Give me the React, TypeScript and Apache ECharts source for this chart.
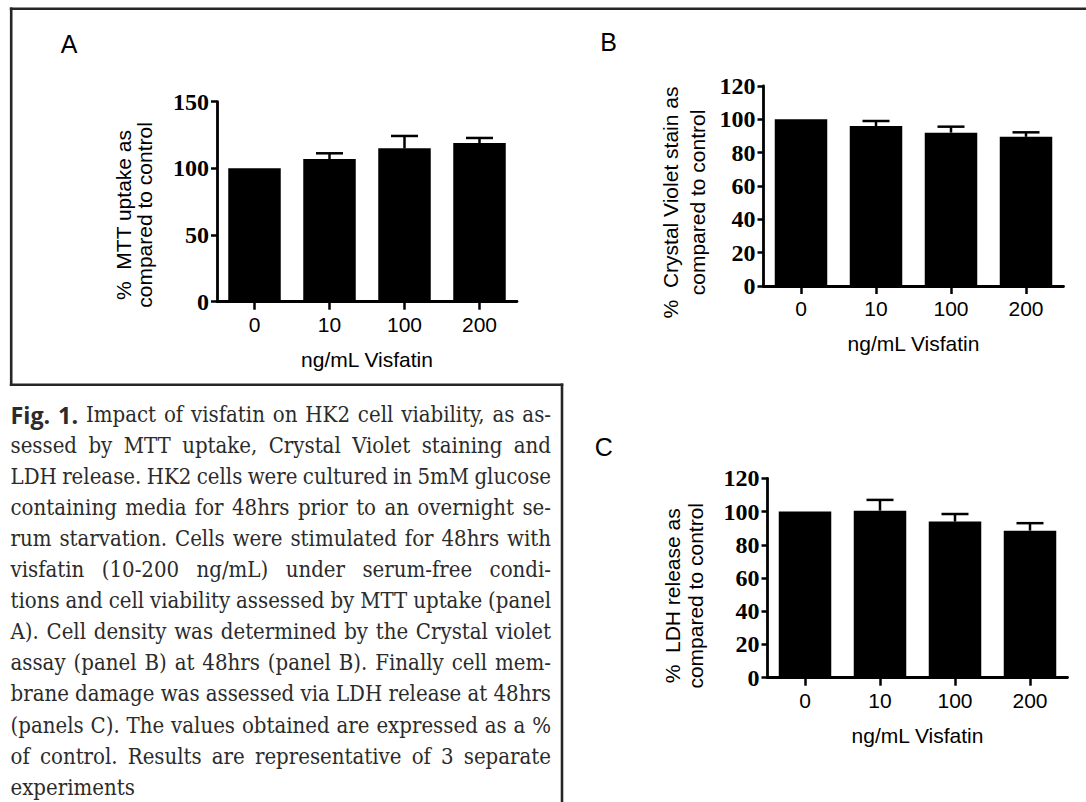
import React, { useEffect, useRef } from 'react';
import * as echarts from 'echarts';

// ---------- data ----------
const doses = ['0', '10', '100', '200'];
const mttMean = [100, 107, 115, 119];
const mttErr = [0, 4.3, 9.3, 3.8];
const cvMean = [100, 96, 92, 89.5];
const cvErr = [0, 3, 3.6, 2.7];
const ldhMean = [100, 100.5, 94, 88.5];
const ldhErr = [0, 6.5, 4.5, 4.5];

const yMaxA = 150;
const yStepA = 50;
const yMaxBC = 120;
const yStepBC = 20;

const xAxisName = 'ng/mL Visfatin';
const yNameA = ['%  MTT uptake as', 'compared to control'];
const yNameB = ['%  Crystal Violet stain as', 'compared to control'];
const yNameC = ['%  LDH release as', 'compared to control'];
const panelLetters = ['A', 'B', 'C'];

const captionLines = [
  'Fig. 1. Impact of visfatin on HK2 cell viability, as as-',
  'sessed by MTT uptake, Crystal Violet staining and',
  'LDH release. HK2 cells were cultured in 5mM glucose',
  'containing media for 48hrs prior to an overnight se-',
  'rum starvation. Cells were stimulated for 48hrs with',
  'visfatin (10-200 ng/mL) under serum-free condi-',
  'tions and cell viability assessed by MTT uptake (panel',
  'A). Cell density was determined by the Crystal violet',
  'assay (panel B) at 48hrs (panel B). Finally cell mem-',
  'brane damage was assessed via LDH release at 48hrs',
  '(panels C). The values obtained are expressed as a %',
  'of control. Results are representative of 3 separate',
  'experiments',
];
const boldWordCount = 2; // "Fig." "1."

// ---------- layout ----------
const SANS = '"Liberation Sans", Arial, sans-serif';
const TIMES = '"Liberation Serif", "Times New Roman", serif';
const CAP_BOLD = '"Open Sans", sans-serif';

const panels = [
  {
    grid: { left: 217, top: 101.7, width: 300, height: 200 },
    mean: mttMean, err: mttErr, max: yMaxA, step: yStepA,
    yName: yNameA, yNameX: [123, 144.3], yNameY: 215,
    letter: { x: 69, y: 44 },
  },
  {
    grid: { left: 763.5, top: 86, width: 300, height: 200 },
    mean: cvMean, err: cvErr, max: yMaxBC, step: yStepBC,
    yName: yNameB, yNameX: [670, 697], yNameY: 202.5,
    letter: { x: 608.6, y: 41.7 },
  },
  {
    grid: { left: 767.5, top: 478.3, width: 300, height: 199.4 },
    mean: ldhMean, err: ldhErr, max: yMaxBC, step: yStepBC,
    yName: yNameC, yNameX: [672.6, 695], yNameY: 595.8,
    letter: { x: 603.7, y: 446.7 },
  },
];

function buildCaption(): any[] {
  const left = 10.5;
  const right = 551;
  const W = right - left;
  const y0 = 414.5;
  const pitch = 31.05;
  const color = '#2b2b2b';
  const canvas = document.createElement('canvas');
  const ctx = canvas.getContext('2d') as CanvasRenderingContext2D;
  const probe = 'abcdefghijklmnopqrstuvwxyz ABCDEFG';
  const hasFont = (name: string) => {
    ctx.font = '40px monospace';
    const a = ctx.measureText(probe).width;
    ctx.font = `40px "${name}", monospace`;
    const b = ctx.measureText(probe).width;
    return Math.abs(a - b) > 0.5;
  };
  const serif = hasFont('DejaVu Serif Condensed')
    ? '"DejaVu Serif Condensed", "DejaVu Serif", serif'
    : '"DejaVu Serif", serif';
  const boldScale = 1.06;
  const fontOf = (bold: boolean, fs: number) =>
    bold ? `bold ${fs * boldScale}px ${CAP_BOLD}` : `${fs}px ${serif}`;
  const measure = (w: string, bold: boolean, fs: number) => {
    ctx.font = fontOf(bold, fs);
    return ctx.measureText(w).width;
  };
  const lines = captionLines.map((l, li) =>
    l.split(' ').map((w, wi) => ({ w, bold: li === 0 && wi < boldWordCount }))
  );
  const base = 22;
  let maxNat = 0;
  lines.forEach((ws, li) => {
    if (li === lines.length - 1) return;
    const sp = measure(' ', false, base);
    const nat = ws.reduce((s, t) => s + measure(t.w, t.bold, base), 0) + sp * 0.8 * (ws.length - 1);
    maxNat = Math.max(maxNat, nat);
  });
  const fs = Math.min(base, ((base * W) / maxNat) * 0.998);
  const out: any[] = [];
  lines.forEach((ws, li) => {
    const widths = ws.map((t) => measure(t.w, t.bold, fs));
    const sum = widths.reduce((a, b) => a + b, 0);
    const sp = measure(' ', false, fs);
    const gap = li === lines.length - 1 || ws.length < 2 ? sp : (W - sum) / (ws.length - 1);
    let x = left;
    const y = y0 + li * pitch;
    ws.forEach((t, i) => {
      out.push({
        type: 'text',
        x,
        y,
        silent: true,
        style: {
          text: t.w,
          fill: color,
          fontSize: t.bold ? fs * boldScale : fs,
          fontFamily: t.bold ? CAP_BOLD : serif,
          fontWeight: t.bold ? 'bold' : 'normal',
          lineHeight: 17,
          align: 'left',
          verticalAlign: 'middle',
        },
      });
      x += widths[i] + gap;
    });
  });
  return out;
}

export default function App() {
  const ref = useRef<HTMLDivElement>(null);

  useEffect(() => {
    if (!ref.current) return;
    const chart = echarts.init(ref.current, undefined, { renderer: 'svg' });
    const axisColor = '#000';

    const grids = panels.map((p) => ({ ...p.grid, containLabel: false, outerBoundsMode: 'none' }));
    const xAxes = panels.map((p, i) => ({
      type: 'category',
      gridIndex: i,
      data: doses,
      boundaryGap: true,
      axisLine: { show: true, onZero: false, lineStyle: { color: axisColor, width: 2.8 } },
      axisTick: { show: true, alignWithLabel: true, length: 8, lineStyle: { color: axisColor, width: 2.5 } },
      axisLabel: { color: '#000', fontFamily: SANS, fontSize: 21, margin: 12, interval: 0 },
      splitLine: { show: false },
      name: xAxisName,
      nameLocation: 'middle',
      nameGap: 47,
      nameTextStyle: { color: '#000', fontFamily: SANS, fontSize: 21 },
    }));
    const yAxes = panels.map((p, i) => ({
      type: 'value',
      gridIndex: i,
      min: 0,
      max: p.max,
      interval: p.step,
      axisLine: { show: true, lineStyle: { color: axisColor, width: 2.8 } },
      axisTick: { show: true, length: 6, lineStyle: { color: axisColor, width: 2.5 } },
      axisLabel: {
        color: '#000',
        fontFamily: TIMES,
        fontWeight: 'bold',
        fontSize: 24,
        margin: 8,
      },
      splitLine: { show: false },
    }));

    const series: any[] = [];
    panels.forEach((p, i) => {
      series.push({
        type: 'bar',
        xAxisIndex: i,
        yAxisIndex: i,
        data: p.mean,
        barWidth: 52.5,
        itemStyle: { color: '#000' },
        silent: true,
        z: 2,
      });
      series.push({
        type: 'custom',
        xAxisIndex: i,
        yAxisIndex: i,
        silent: true,
        z: 3,
        encode: { x: 0, y: 1 },
        data: p.mean.map((m, k) => [k, m, p.err[k]]),
        renderItem: (params: any, api: any) => {
          const k = api.value(0);
          const m = api.value(1);
          const e = api.value(2);
          if (!e) return null;
          const base = api.coord([k, m]);
          const top = api.coord([k, m + e]);
          const half = 13.5;
          const st = { stroke: '#000', lineWidth: 2.5 };
          return {
            type: 'group',
            children: [
              { type: 'line', shape: { x1: base[0], y1: base[1], x2: top[0], y2: top[1] }, style: st },
              { type: 'line', shape: { x1: top[0] - half, y1: top[1], x2: top[0] + half, y2: top[1] }, style: st },
            ],
          };
        },
      });
    });

    const graphic: any[] = [];
    const frameStyle = { stroke: '#262626', lineWidth: 2.6 };
    graphic.push(
      { type: 'line', silent: true, shape: { x1: 9.8, y1: 8.7, x2: 1086, y2: 8.7 }, style: frameStyle },
      { type: 'line', silent: true, shape: { x1: 11.2, y1: 7.4, x2: 11.2, y2: 386 }, style: frameStyle },
      { type: 'line', silent: true, shape: { x1: 9.8, y1: 384.7, x2: 563.3, y2: 384.7 }, style: frameStyle },
      { type: 'line', silent: true, shape: { x1: 562, y1: 383.4, x2: 562, y2: 802 }, style: frameStyle }
    );
    panels.forEach((p, i) => {
      graphic.push({
        type: 'text',
        x: p.letter.x,
        y: p.letter.y,
        silent: true,
        style: {
          text: panelLetters[i],
          fill: '#000',
          fontSize: 25,
          fontFamily: SANS,
          align: 'center',
          verticalAlign: 'middle',
        },
      });
      p.yName.forEach((t, j) => {
        graphic.push({
          type: 'text',
          x: p.yNameX[j],
          y: p.yNameY,
          rotation: Math.PI / 2,
          silent: true,
          style: {
            text: t,
            fill: '#000',
            fontSize: 21,
            fontFamily: SANS,
            align: 'center',
            verticalAlign: 'middle',
          },
        });
      });
    });
    graphic.push(...buildCaption());

    chart.setOption({
      animation: false,
      backgroundColor: '#fff',
      grid: grids,
      xAxis: xAxes,
      yAxis: yAxes,
      series,
      graphic,
    });

    return () => chart.dispose();
  }, []);

  return (
    <div
      ref={ref}
      style={{ position: 'absolute', left: 0, top: 0, width: 1086, height: 802, background: '#fff' }}
    />
  );
}
